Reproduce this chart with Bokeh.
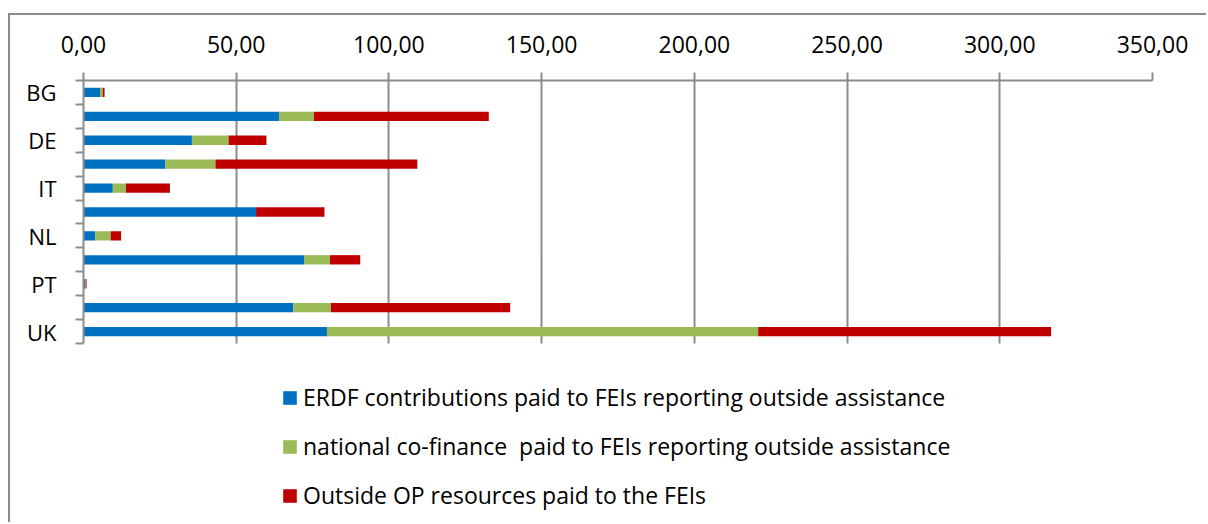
from bokeh.plotting import figure
from bokeh.models import (ColumnDataSource, Range1d, FixedTicker, Legend, LegendItem)
from bokeh.embed import file_html
from bokeh.resources import INLINE

# ---- data ----
countries = ["BG", "CZ", "DE", "ES", "IT", "LT", "NL", "PL", "PT", "SK", "UK"]
shown_labels = ["BG", "DE", "IT", "NL", "PT", "UK"]
erdf = [5.4, 64.0, 35.5, 26.8, 9.6, 56.5, 3.8, 72.2, 0.6, 68.7, 79.7]
national = [0.9, 11.4, 12.0, 16.4, 4.3, 0.0, 5.1, 8.5, 0.1, 12.3, 141.2]
outside = [0.6, 57.3, 12.4, 66.1, 14.4, 22.4, 3.4, 9.9, 0.3, 58.7, 95.9]
series_names = ["ERDF contributions paid to FEIs reporting outside assistance",
                "national co-finance  paid to FEIs reporting outside assistance",
                "Outside OP resources paid to the FEIs"]
colors = ["#0070C0", "#9BBB59", "#C00000"]
x_ticks = [0, 50, 100, 150, 200, 250, 300, 350]
x_tick_labels = ["0,00", "50,00", "100,00", "150,00", "200,00", "250,00", "300,00", "350,00"]

n = len(countries)
ypos = [i + 0.5 for i in range(n)]
src = ColumnDataSource(dict(y=ypos, erdf=erdf, national=national, outside=outside))

grey = "#8c8c8c"
H, top_border = 509, 65
frame_h = H - top_border
rows_px = 263.0
p = figure(width=1198, height=H, output_backend="svg", toolbar_location=None,
           x_range=Range1d(0, 350), y_range=Range1d(n * frame_h / rows_px, 0),
           x_axis_location="above", y_axis_location="left",
           min_border_left=73, min_border_right=56, min_border_top=top_border, min_border_bottom=0,
           styles={"border-left": "2px solid " + grey, "border-top": "2px solid " + grey,
                   "margin-left": "8px", "margin-top": "13px"})
p.outline_line_color = None
p.background_fill_color = "white"
p.border_fill_color = "white"

renderers = p.hbar_stack(["erdf", "national", "outside"], y="y", height=0.39,
                         color=colors, line_color=None, source=src)

# x axis (top)
xa = p.xaxis[0]
xa.ticker = FixedTicker(ticks=x_ticks)
xa.major_label_overrides = {t: l for t, l in zip(x_ticks, x_tick_labels)}
xa.major_label_text_font = "Open Sans"
xa.major_label_text_font_size = "23px"
xa.major_label_text_color = "black"
xa.major_label_standoff = 20
xa.axis_line_color = grey
xa.axis_line_width = 2
xa.major_tick_line_color = grey
xa.major_tick_line_width = 2
xa.major_tick_out = 8
xa.major_tick_in = 0
xa.minor_tick_line_color = None

# y axis (left)
ya = p.yaxis[0]
label_pos = [ypos[countries.index(c)] for c in shown_labels]
ya.ticker = FixedTicker(ticks=label_pos, minor_ticks=list(range(n + 1)))
ya.bounds = (0, n)
ya.major_label_overrides = {pos: c for pos, c in zip(label_pos, shown_labels)}
ya.major_label_text_font = "Open Sans"
ya.major_label_text_font_size = "22px"
ya.major_label_text_color = "black"
ya.major_label_standoff = 19
ya.axis_line_color = grey
ya.axis_line_width = 2
ya.major_tick_line_color = None
ya.major_tick_out = 0
ya.major_tick_in = 0
ya.minor_tick_line_color = grey
ya.minor_tick_line_width = 2
ya.minor_tick_out = 8
ya.minor_tick_in = 0

p.xgrid.ticker = FixedTicker(ticks=x_ticks)
p.xgrid.grid_line_color = grey
p.xgrid.grid_line_width = 2
p.xgrid.cross_bounds = (0, n)
p.ygrid.grid_line_color = None

legend = Legend(items=[LegendItem(label=s, renderers=[r]) for s, r in zip(series_names, renderers)],
                location=(198, 13), orientation="vertical",
                label_text_font="Open Sans", label_text_font_size="23px",
                label_text_color="black", glyph_width=17, glyph_height=17,
                label_standoff=5, spacing=17, padding=0, margin=0,
                border_line_color=None, background_fill_alpha=0)
p.add_layout(legend, "center")

open("out.html", "w").write(file_html(p, INLINE))
